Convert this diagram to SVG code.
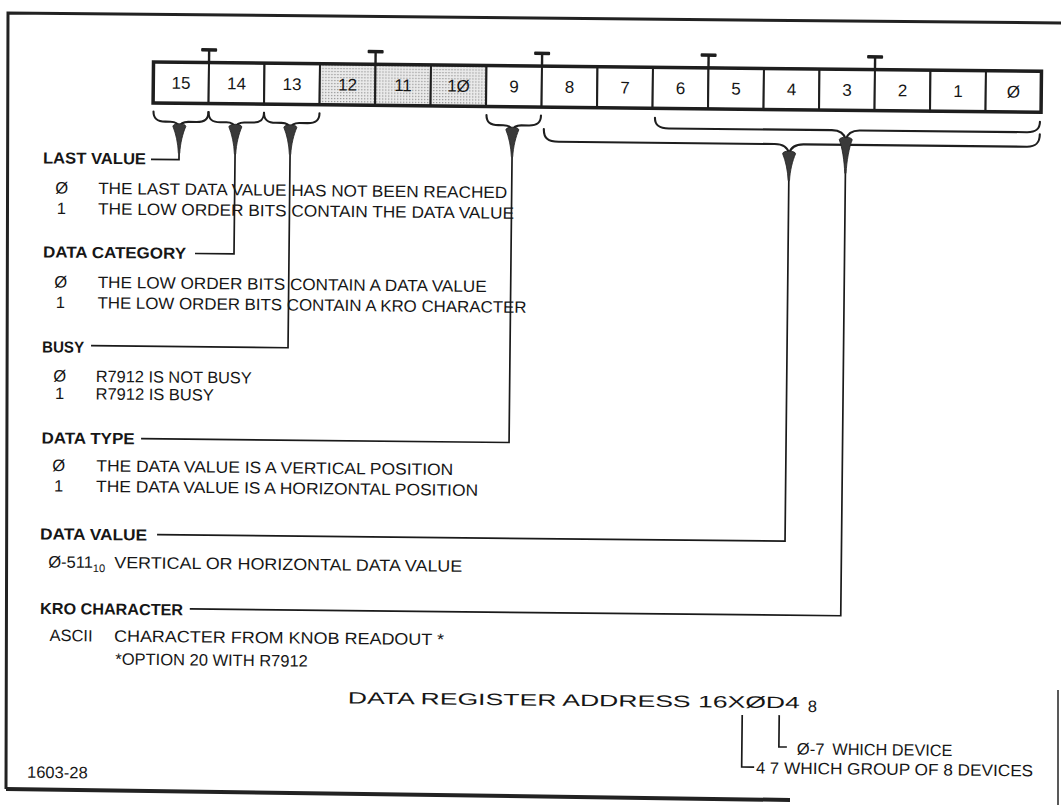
<svg xmlns="http://www.w3.org/2000/svg" width="1061" height="805" viewBox="0 0 1061 805">
<defs>
<pattern id="dots" width="3" height="3" patternUnits="userSpaceOnUse"><rect width="3" height="3" fill="#ebebeb"/><rect x="1" y="1" width="1.2" height="1.2" fill="#8c8c8c"/></pattern>
<style>
.h{font-family:"Liberation Sans",Arial,sans-serif;font-weight:bold;font-size:16px;fill:#161616}
.t{font-family:"Liberation Sans",Arial,sans-serif;font-size:16.5px;fill:#161616}
.n{font-family:"Liberation Sans",Arial,sans-serif;font-size:17px;fill:#161616;text-anchor:middle}
.c{text-anchor:middle}
.cell{fill:#fff;stroke:#1e1e1e;stroke-width:2}
.sh{fill:url(#dots);stroke:#1e1e1e;stroke-width:2}
.ln{fill:none;stroke:#1a1a1a;stroke-width:1.7}
.br{fill:none;stroke:#1e1e1e;stroke-width:2.1;stroke-linecap:round}
.wd{fill:#3a3a3a;stroke:#1e1e1e;stroke-width:0.8}
.tk{fill:#1e1e1e}
</style>
</defs>
<rect width="1061" height="805" fill="#fff"/>
<g id="border" fill="none" stroke="#222">
<path d="M1061,23 L8,13 L6,789" stroke-width="3"/>
<path d="M6,789 L790,800" stroke-width="4"/>
<path d="M1058,690 L1058,805" stroke-width="1.5"/>
</g>
<g transform="rotate(0.6 530 400)">
<g id="register">
<rect class="cell" x="150" y="66" width="55.5" height="41"/>
<rect class="cell" x="205.5" y="66" width="55.5" height="41"/>
<rect class="cell" x="261" y="66" width="55.5" height="41"/>
<rect class="sh" x="316.5" y="66" width="55.5" height="41"/>
<rect class="sh" x="372" y="66" width="55.5" height="41"/>
<rect class="sh" x="427.5" y="66" width="55.5" height="41"/>
<rect class="cell" x="483" y="66" width="55.5" height="41"/>
<rect class="cell" x="538.5" y="66" width="55.5" height="41"/>
<rect class="cell" x="594" y="66" width="55.5" height="41"/>
<rect class="cell" x="649.5" y="66" width="55.5" height="41"/>
<rect class="cell" x="705" y="66" width="55.5" height="41"/>
<rect class="cell" x="760.5" y="66" width="55.5" height="41"/>
<rect class="cell" x="816" y="66" width="55.5" height="41"/>
<rect class="cell" x="871.5" y="66" width="55.5" height="41"/>
<rect class="cell" x="927" y="66" width="55.5" height="41"/>
<rect class="cell" x="982.5" y="66" width="55.5" height="41"/>
<rect x="150" y="66" width="888" height="41" fill="none" stroke="#1e1e1e" stroke-width="3.5"/>
<text class="n" x="177.75" y="92.5">15</text>
<text class="n" x="233.25" y="92.5">14</text>
<text class="n" x="288.75" y="92.5">13</text>
<text class="n" x="344.25" y="92.5">12</text>
<text class="n" x="399.75" y="92.5">11</text>
<text class="n" x="455.25" y="92.5">1Ø</text>
<text class="n" x="510.75" y="92.5">9</text>
<text class="n" x="566.25" y="92.5">8</text>
<text class="n" x="621.75" y="92.5">7</text>
<text class="n" x="677.25" y="92.5">6</text>
<text class="n" x="732.75" y="92.5">5</text>
<text class="n" x="788.25" y="92.5">4</text>
<text class="n" x="843.75" y="92.5">3</text>
<text class="n" x="899.25" y="92.5">2</text>
<text class="n" x="954.75" y="92.5">1</text>
<text class="n" x="1010.25" y="92.5">Ø</text>
<g class="tk">
<rect x="197.5" y="51.5" width="16" height="3.5" rx="1"/><rect x="204.3" y="54" width="2.4" height="13"/>
<rect x="364" y="51.5" width="16" height="3.5" rx="1"/><rect x="370.8" y="54" width="2.4" height="13"/>
<rect x="530.5" y="51.5" width="16" height="3.5" rx="1"/><rect x="537.3" y="54" width="2.4" height="13"/>
<rect x="697" y="51.5" width="16" height="3.5" rx="1"/><rect x="703.8" y="54" width="2.4" height="13"/>
<rect x="863.5" y="51.5" width="16" height="3.5" rx="1"/><rect x="870.3" y="54" width="2.4" height="13"/>
</g>
</g>
<g id="connectors">
<path class="br" d="M150.5,115.5 C150.5,123 154.5,125.5 162.5,125.5 L167.5,125.5 C172.5,125.5 175.5,127 176.5,131 C177.5,127 180.5,125.5 185.5,125.5 L193.5,125.5 C201.5,125.5 205.5,123 205.5,115.5"/>
<path class="br" d="M205.5,115.5 C205.5,123 209.5,125.5 217.5,125.5 L223.5,125.5 C228.5,125.5 231.5,127 232.5,131 C233.5,127 236.5,125.5 241.5,125.5 L249,125.5 C257,125.5 261,123 261,115.5"/>
<path class="br" d="M261,115.5 C261,123 265,125.5 273,125.5 L278.5,125.5 C283.5,125.5 286.5,127 287.5,131 C288.5,127 291.5,125.5 296.5,125.5 L304.5,125.5 C312.5,125.5 316.5,123 316.5,115.5"/>
<path class="br" d="M483.5,115.5 C483.5,123 487.5,125.5 495.5,125.5 L500.5,125.5 C505.5,125.5 508.5,127 509.5,131 C510.5,127 513.5,125.5 518.5,125.5 L526,125.5 C534,125.5 538,123 538,115.5"/>
<path class="br" d="M541,129 C541,138 545,141.5 556,141.5 L772,141.5 C780,141.5 785,144 786.5,151 C788,144 793,141.5 801,141.5 L1024,141.5 C1033,141.5 1037,138 1037,129"/>
<path class="br" d="M652,116.5 C652,124 656,127 666,127 L829,127 C837,127 841.5,130 843,136.5 C844.5,130 849,127 857,127 L1024,127 C1033,127 1037,124 1037,116.5"/>
<path class="wd" d="M170,130 C170.5,126.5 182.5,126.5 183,130 C180,137 177.6,147 177.2,157 L175.8,157 C175.4,147 173,137 170,130 Z"/>
<path class="wd" d="M226,130 C226.5,126.5 238.5,126.5 239,130 C236,137 233.6,147 233.2,157 L231.8,157 C231.4,147 229,137 226,130 Z"/>
<path class="wd" d="M281,130 C281.5,126.5 293.5,126.5 294,130 C291,137 288.6,147 288.2,157 L286.8,157 C286.4,147 284,137 281,130 Z"/>
<path class="wd" d="M503,130 C503.5,126.5 515.5,126.5 516,130 C513,137 510.6,147 510.2,157 L508.8,157 C508.4,147 506,137 503,130 Z"/>
<path class="wd" d="M780,151 C780.5,147.5 792.5,147.5 793,151 C790,158 787.6,168 787.2,178 L785.8,178 C785.4,168 783,158 780,151 Z"/>
<path class="wd" d="M836.5,136.5 C837,133 849,133 849.5,136.5 C846.5,144 844.1,158 843.7,170 L842.3,170 C841.9,158 839.5,144 836.5,136.5 Z"/>
<path class="ln" d="M176.5,157 V163.3 H148.5"/>
<path class="ln" d="M232.5,157 V257 H193.5"/>
<path class="ln" d="M287.5,157 V350.3 H90.5"/>
<path class="ln" d="M509.5,157 V442.7 H141.5"/>
<path class="ln" d="M786.5,178 V538.5 H158.5"/>
<path class="ln" d="M843,170 V612.5 H192"/>
</g>
<g id="last-value">
<text class="h" x="40.5" y="168.5" textLength="103" lengthAdjust="spacingAndGlyphs">LAST VALUE</text>
<text class="t c" x="59.5" y="198.5">Ø</text>
<text class="t" x="96" y="198.5" textLength="409" lengthAdjust="spacingAndGlyphs">THE LAST DATA VALUE HAS NOT BEEN REACHED</text>
<text class="t c" x="59.5" y="219">1</text>
<text class="t" x="96" y="219" textLength="416" lengthAdjust="spacingAndGlyphs">THE LOW ORDER BITS CONTAIN THE DATA VALUE</text>
</g>
<g id="data-category">
<text class="h" x="41.5" y="262.5" textLength="143" lengthAdjust="spacingAndGlyphs">DATA CATEGORY</text>
<text class="t c" x="59.5" y="292.5">Ø</text>
<text class="t" x="96.5" y="292.5" textLength="389" lengthAdjust="spacingAndGlyphs">THE LOW ORDER BITS CONTAIN A DATA VALUE</text>
<text class="t c" x="59.5" y="313">1</text>
<text class="t" x="96.5" y="313" textLength="429" lengthAdjust="spacingAndGlyphs">THE LOW ORDER BITS CONTAIN A KRO CHARACTER</text>
</g>
<g id="busy">
<text class="h" x="41.5" y="357.5" textLength="42" lengthAdjust="spacingAndGlyphs">BUSY</text>
<text class="t c" x="59.5" y="386.5">Ø</text>
<text class="t" x="95.5" y="386.5" textLength="156" lengthAdjust="spacingAndGlyphs">R7912 IS NOT BUSY</text>
<text class="t c" x="59.5" y="404">1</text>
<text class="t" x="95.5" y="404">R7912 IS BUSY</text>
</g>
<g id="data-type">
<text class="h" x="42" y="448.5" textLength="93" lengthAdjust="spacingAndGlyphs">DATA TYPE</text>
<text class="t c" x="59.5" y="476">Ø</text>
<text class="t" x="97" y="476" textLength="357" lengthAdjust="spacingAndGlyphs">THE DATA VALUE IS A VERTICAL POSITION</text>
<text class="t c" x="59.5" y="496.5">1</text>
<text class="t" x="97" y="496.5" textLength="382" lengthAdjust="spacingAndGlyphs">THE DATA VALUE IS A HORIZONTAL POSITION</text>
</g>
<g id="data-value">
<text class="h" x="41.5" y="544.5" textLength="107" lengthAdjust="spacingAndGlyphs">DATA VALUE</text>
<text class="t" x="50" y="572.5">Ø-511<tspan font-size="11" dy="4">10</tspan></text>
<text class="t" x="116" y="572.5" textLength="348" lengthAdjust="spacingAndGlyphs">VERTICAL OR HORIZONTAL DATA VALUE</text>
</g>
<g id="kro-character">
<text class="h" x="42.3" y="619" textLength="143" lengthAdjust="spacingAndGlyphs">KRO CHARACTER</text>
<text class="t" x="52" y="646">ASCII</text>
<text class="t" x="116.5" y="646" textLength="330" lengthAdjust="spacingAndGlyphs">CHARACTER FROM KNOB READOUT *</text>
<text class="t" x="118" y="669">*OPTION 20 WITH R7912</text>
</g>
<g id="address">
<text class="t" x="351" y="705.5" font-size="27" textLength="452" lengthAdjust="spacingAndGlyphs">DATA REGISTER ADDRESS 16XØD4</text>
<text class="t" x="811" y="709" font-size="14">8</text>
<path class="ln" d="M782.5,712.5 V744.3 H790.5"/>
<path class="ln" d="M745.5,712.8 V764.7 H758"/>
<text class="t" x="800.5" y="751.7" font-size="14">Ø-7</text>
<text class="t" x="836" y="751.7" font-size="14.5" textLength="120" lengthAdjust="spacingAndGlyphs">WHICH DEVICE</text>
<text class="t" x="760" y="771.1" font-size="13">4 7</text>
<text class="t" x="788" y="771.1" font-size="14.5" textLength="249" lengthAdjust="spacingAndGlyphs">WHICH GROUP OF 8 DEVICES</text>
</g>
<g id="figure-number">
<text class="t" x="31" y="783" font-size="15">1603-28</text>
</g>
</g>
</svg>
